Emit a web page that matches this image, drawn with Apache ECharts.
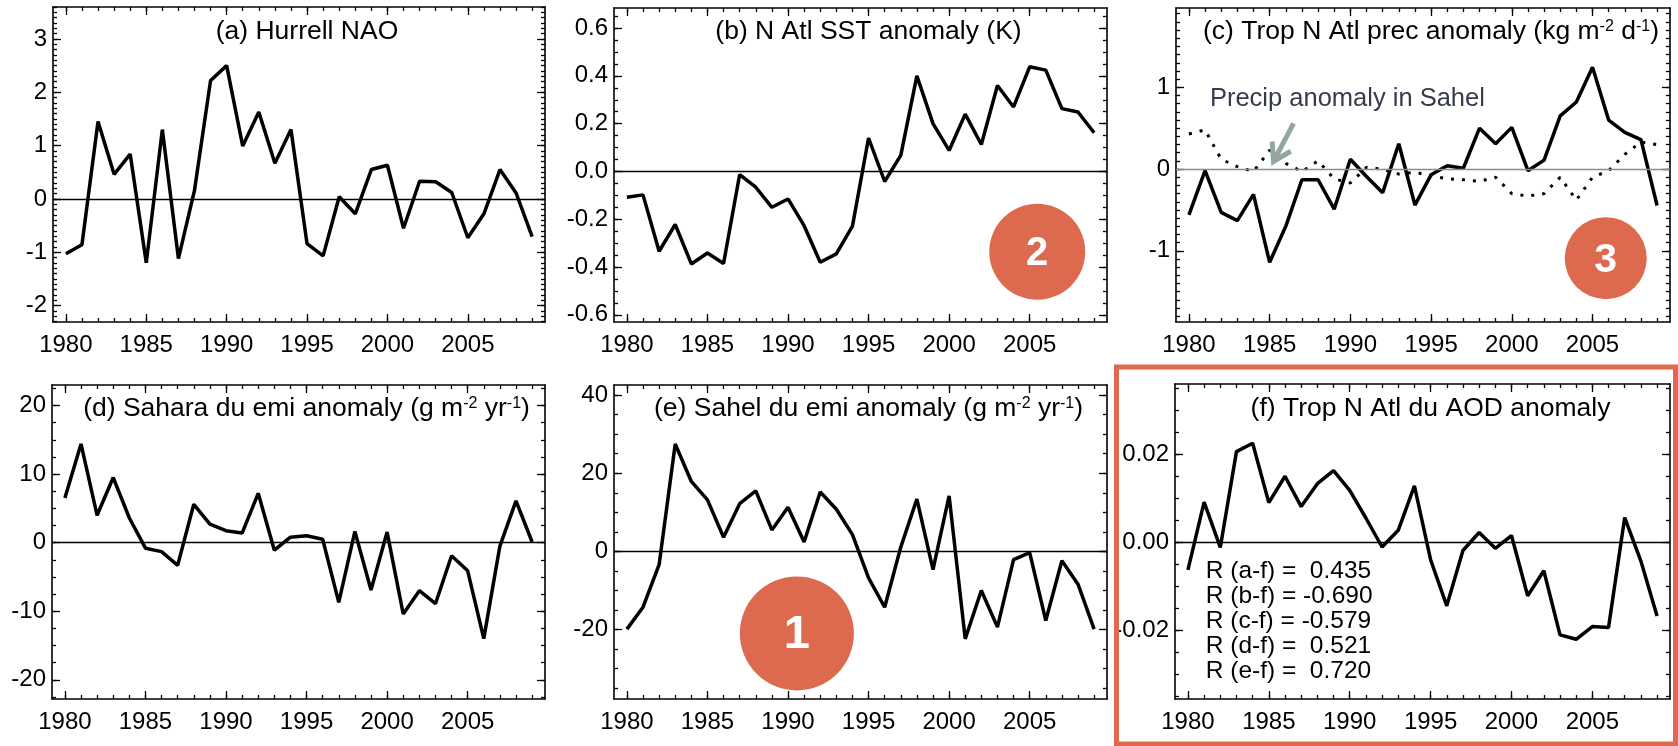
<!DOCTYPE html>
<html><head><meta charset="utf-8">
<script src="https://cdn.jsdelivr.net/npm/echarts@6/dist/echarts.min.js"></script>
<style>html,body{margin:0;padding:0;background:#fff}#c{width:1678px;height:746px}</style>
</head><body><div id="c"></div>
<script>
// ---------------- data ----------------
const years = [1980,1981,1982,1983,1984,1985,1986,1987,1988,1989,1990,1991,1992,1993,1994,1995,1996,1997,1998,1999,2000,2001,2002,2003,2004,2005,2006,2007,2008,2009];
const hurrellNao = [-1.03,-0.86,1.45,0.46,0.84,-1.2,1.3,-1.12,0.16,2.22,2.5,0.99,1.63,0.67,1.3,-0.84,-1.07,0.04,-0.28,0.55,0.63,-0.55,0.33,0.32,0.12,-0.73,-0.28,0.55,0.11,-0.71];
const natlSst = [-0.108,-0.098,-0.334,-0.222,-0.387,-0.341,-0.385,-0.013,-0.066,-0.15,-0.115,-0.227,-0.38,-0.345,-0.229,0.14,-0.042,0.067,0.40,0.2,0.088,0.24,0.113,0.36,0.27,0.438,0.424,0.263,0.249,0.162];
const tropPrec = [-0.56,-0.02,-0.53,-0.63,-0.31,-1.14,-0.70,-0.13,-0.13,-0.49,0.12,-0.09,-0.29,0.31,-0.44,-0.07,0.04,0.01,0.50,0.31,0.51,-0.02,0.11,0.65,0.82,1.245,0.60,0.45,0.36,-0.445];
const sahelPrec = [0.43,0.48,0.12,0.03,-0.03,0.23,0.07,-0.03,0.1,-0.12,-0.17,0.02,0.0,-0.06,-0.04,-0.08,-0.12,-0.13,-0.15,-0.1,-0.3,-0.33,-0.3,-0.1,-0.38,-0.1,-0.02,0.18,0.33,0.3];
const saharaEmi = [6.5,14.4,4.0,9.5,3.6,-0.8,-1.3,-3.3,5.6,2.7,1.75,1.4,7.2,-1.1,0.8,1.0,0.5,-8.7,1.65,-6.9,1.55,-10.4,-7.0,-8.9,-1.9,-4.1,-14.0,-0.5,6.1,0.1];
const sahelEmi = [-19.9,-14.3,-3.4,27.5,17.9,13.2,3.6,12.2,15.5,5.5,11.3,2.4,15.2,10.8,4.3,-6.8,-14.3,1.1,13.4,-4.7,14.2,-22.4,-10.0,-19.4,-2.1,-0.3,-17.7,-2.4,-8.4,-19.9];
const tropAod = [-0.0063,0.0091,-0.0012,0.0206,0.0225,0.009,0.015,0.0081,0.0133,0.0163,0.0118,0.0055,-0.0011,0.0027,0.0128,-0.004,-0.0145,-0.0019,0.0022,-0.0014,0.0015,-0.0122,-0.0065,-0.0211,-0.0221,-0.0192,-0.0194,0.0056,-0.0043,-0.0168];

const xTickLabels = [1980,1985,1990,1995,2000,2005];
const yTicksA = [-2,-1,0,1,2,3];
const yTicksB = [-0.6,-0.4,-0.2,0,0.2,0.4,0.6];
const yTicksC = [-1,0,1];
const yTicksD = [-20,-10,0,10,20];
const yTicksE = [-20,0,20,40];
const yTicksF = [-0.02,0,0.02];

const titleA = '(a) Hurrell NAO';
const titleB = '(b) N Atl SST anomaly (K)';
const titleC = '(c) Trop N Atl prec anomaly (kg m{s|-2} d{s|-1})';
const titleD = '(d) Sahara du emi anomaly (g m{s|-2} yr{s|-1})';
const titleE = '(e) Sahel du emi anomaly (g m{s|-2} yr{s|-1})';
const titleF = '(f) Trop N Atl du AOD anomaly';
const sahelNote = 'Precip anomaly in Sahel';
const rPairs = ['a-f','b-f','c-f','d-f','e-f'];
const rValues = [0.435,-0.690,-0.579,0.521,0.720];
const badgeLabels = ['1','2','3'];

// ---------------- layout / style ----------------
const FONT = '"Liberation Sans", Arial, Helvetica, sans-serif';
const X_MIN = 1979.2, X_MAX = 2009.8;
const ORANGE = '#DD694E';

const panels = [
  {title:titleA, data:hurrellNao, yMin:-2.31, yMax:3.6, ticks:yTicksA, minorStep:0.1, dec:0, box:[53,7,545,322]},
  {title:titleB, data:natlSst, yMin:-0.63, yMax:0.684, ticks:yTicksB, minorStep:0.05, dec:1, box:[614,8,1107,322]},
  {title:titleC, data:tropPrec, extra:sahelPrec, yMin:-1.87, yMax:1.97, ticks:yTicksC, minorStep:0.1, dec:0, box:[1176,8,1670,322], zeroColor:'#8c8c8c'},
  {title:titleD, data:saharaEmi, yMin:-22.8, yMax:23.0, ticks:yTicksD, minorStep:2.5, dec:0, box:[52,385,545,699]},
  {title:titleE, data:sahelEmi, yMin:-37.8, yMax:42.6, ticks:yTicksE, minorStep:5, dec:0, box:[614,385,1107,699]},
  {title:titleF, data:tropAod, yMin:-0.0357, yMax:0.036, ticks:yTicksF, minorStep:0.005, dec:2, box:[1175,384,1670,699]}
];

function mkX(gi, pos, major, labels) {
  return {type:'value', gridIndex:gi, position:pos, min:X_MIN, max:X_MAX,
    axisLine:{show:major, onZero:false, lineStyle:{color:'#000', width:1.6}},
    axisTick:{show:true, inside:true, length:major?8:4, customValues: major ? xTickLabels : years, lineStyle:{color:'#000', width:1.3}},
    axisLabel:{show:labels, customValues:xTickLabels, margin:11, color:'#000', fontFamily:FONT, fontSize:24, formatter:v=>String(v)},
    splitLine:{show:false}};
}
function mkY(gi, pos, major, labels, p, minorVals) {
  return {type:'value', gridIndex:gi, position:pos, min:p.yMin, max:p.yMax,
    axisLine:{show:major, onZero:false, lineStyle:{color:'#000', width:1.6}},
    axisTick:{show:true, inside:true, length:major?8:4, customValues: major ? p.ticks : minorVals, lineStyle:{color:'#000', width:1.3}},
    axisLabel:{show:labels, customValues:p.ticks, margin:6, color:'#000', fontFamily:FONT, fontSize:24, formatter:v=>Number(v).toFixed(p.dec)},
    splitLine:{show:false}};
}

const grids=[], xAxes=[], yAxes=[], series=[], mainSeries=[];
panels.forEach((p,i)=>{
  const [x0,y0,x1,y1] = p.box;
  const g = {left:x0, top:y0, width:x1-x0, height:y1-y0, containLabel:false, show:false};
  grids.push(Object.assign({},g), Object.assign({},g));
  const gMaj = 2*i, gMin = 2*i+1;
  const minorY = [];
  for (let k=Math.ceil(p.yMin/p.minorStep-1e-9); k<=Math.floor(p.yMax/p.minorStep+1e-9); k++) minorY.push(+(k*p.minorStep).toFixed(6));
  xAxes.push(mkX(gMaj,'bottom',true,true), mkX(gMaj,'top',true,false), mkX(gMin,'bottom',false,false), mkX(gMin,'top',false,false));
  yAxes.push(mkY(gMaj,'left',true,true,p), mkY(gMaj,'right',true,false,p), mkY(gMin,'left',false,false,p,minorY), mkY(gMin,'right',false,false,p,minorY));
  mainSeries.push(series.length);
  series.push({type:'line', xAxisIndex:4*i, yAxisIndex:4*i, data:years.map((y,k)=>[y,p.data[k]]),
    symbol:'none', showSymbol:false, lineStyle:{color:'#000', width:3.5}, z:4, animation:false,
    markLine:{silent:true, symbol:['none','none'], label:{show:false}, animation:false,
      lineStyle:{color:p.zeroColor||'#000', width:1.3, type:'solid'}, data:[{yAxis:0}]}});
  if (p.extra) {
    series.push({type:'line', xAxisIndex:4*i, yAxisIndex:4*i, data:years.map((y,k)=>[y,p.extra[k]]),
      symbol:'none', showSymbol:false, lineStyle:{color:'#000', width:3, type:[3,8], cap:'butt'}, z:3, animation:false});
  }
});

const chart = echarts.init(document.getElementById('c'), null, {renderer:'canvas', width:1678, height:746});
chart.setOption({animation:false, backgroundColor:'#fff', grid:grids, xAxis:xAxes, yAxis:yAxes, series:series});

// ---------------- annotations ----------------
const pt = (pi,x,y)=>chart.convertToPixel({seriesIndex:mainSeries[pi]},[x,y]);
const graphics = [];
panels.forEach((p,i)=>{
  const [x0,y0,x1] = p.box;
  graphics.push({type:'text', x:(x0+x1)/2+8, y: i<3 ? 32 : 409, z:10,
    style:{text:p.title, fill:'#000', fontFamily:FONT, fontSize:26.5, align:'center', verticalAlign:'middle',
      rich:{s:{fontSize:16, fontFamily:FONT, fill:'#000', verticalAlign:'top', lineHeight:17}}}});
});
// R values in panel f
const rText = rPairs.map((r,k)=>'R (' + r + ') = ' + (rValues[k] < 0 ? '' : ' ') + rValues[k].toFixed(3)).join('\n');
const rPos = pt(5, 1981.1, -0.0067);
graphics.push({type:'text', x:rPos[0], y:rPos[1]-12.5, z:10,
  style:{text:rText, fill:'#000', fontFamily:FONT, fontSize:24.5, lineHeight:25, align:'left', verticalAlign:'top'}});
// Sahel note + arrow in panel c
const notePos = pt(2, 1981.3, 0.86);
graphics.push({type:'text', x:notePos[0], y:notePos[1], z:10,
  style:{text:sahelNote, fill:'#363b4c', fontFamily:FONT, fontSize:25.5, align:'left', verticalAlign:'middle'}});
const tail = pt(2, 1986.48, 0.56), tip = pt(2, 1985.24, 0.093);
{
  const dx = tail[0]-tip[0], dy = tail[1]-tip[1], L = Math.hypot(dx,dy), ux = dx/L, uy = dy/L;
  const arm = a => [tip[0] + 20*(ux*Math.cos(a)-uy*Math.sin(a)), tip[1] + 20*(ux*Math.sin(a)+uy*Math.cos(a))];
  const AC = '#93a79c';
  graphics.push({type:'line', z:11, shape:{x1:tail[0], y1:tail[1], x2:tip[0]+ux*3, y2:tip[1]+uy*3}, style:{stroke:AC, lineWidth:5}});
  graphics.push({type:'polyline', z:11, shape:{points:[arm(-0.55), tip, arm(0.55)]}, style:{stroke:AC, lineWidth:5, fill:null, lineJoin:'miter'}});
}
// numbered badges
const badges = [
  {panel:4, x:1990.55, y:-21.0, r:57, fs:47, label:badgeLabels[0]},
  {panel:1, x:2005.47, y:-0.336, r:48, fs:40, label:badgeLabels[1]},
  {panel:2, x:2005.82, y:-1.09, r:41, fs:41, label:badgeLabels[2]}
];
badges.forEach(b=>{
  const c = pt(b.panel, b.x, b.y);
  graphics.push({type:'circle', z:20, shape:{cx:c[0], cy:c[1], r:b.r}, style:{fill:ORANGE}});
  graphics.push({type:'text', z:21, x:c[0], y:c[1]+2, style:{text:b.label, fill:'#fff', fontFamily:FONT, fontWeight:'bold', fontSize:b.fs, align:'center', verticalAlign:'middle'}});
});
// orange highlight frame around panel f
graphics.push({type:'rect', z:30, shape:{x:1116.5, y:367, width:559, height:377}, style:{fill:null, stroke:ORANGE, lineWidth:5}});
chart.setOption({graphic:graphics});
</script></body></html>
